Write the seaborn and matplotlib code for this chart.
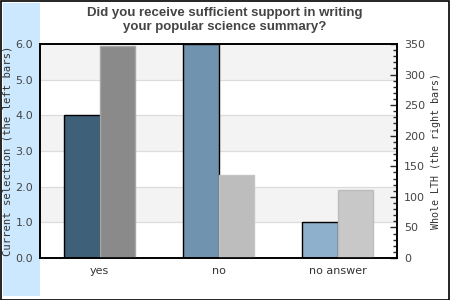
import numpy as np
import pandas as pd
import matplotlib
matplotlib.use("Agg")
import matplotlib.pyplot as plt
from matplotlib.patches import Rectangle
from matplotlib.ticker import MultipleLocator, FormatStrFormatter
import seaborn as sns

categories = ["yes", "no", "no answer"]
current_selection = [4.0, 6.0, 1.0]
whole_lth = [346, 136, 111]
left_colors = ["#3f6079", "#7094b0", "#8fb0cc"]
right_colors = ["#8a8a8a", "#bdbdbd", "#c8c8c8"]
right_edges = ["#a6a6a6", "#c4c4c4", "#bcbcbc"]

title = "Did you receive sufficient support in writing\nyour popular science summary?"
left_label = "Current selection (the left bars)"
right_label = "Whole LTH (the right bars)"

sns.set_style("white")
plt.rcParams["font.family"] = ["DejaVu Sans"]

fig = plt.figure(figsize=(4.5, 3.0), dpi=100)
fig.patch.set_facecolor("white")
# light blue strip on the left
fig.patches.append(Rectangle((3/450, 4/300), 37/450, 293/300, transform=fig.transFigure,
                             facecolor="#cce8ff", edgecolor="none", zorder=-2))
# outer border
fig.patches.append(Rectangle((0.5/450, 0.5/300), 448.5/450, 298.5/300, transform=fig.transFigure,
                             facecolor="none", edgecolor="black", linewidth=1.2, zorder=5))

ax = fig.add_axes([40/450, 42/300, 357/450, 214/300])
ax.set_facecolor("white")

df_left = pd.DataFrame({"category": categories, "value": current_selection, "series": "left"})
df_right = pd.DataFrame({"category": categories, "value": whole_lth, "series": "right"})

# bands and gridlines
for lo in [1, 3, 5]:
    ax.axhspan(lo, lo + 1, color="#f3f3f3", zorder=0, lw=0)
for y in range(1, 6):
    ax.axhline(y, color="#dcdcdc", lw=0.9, zorder=0.5)

sns.barplot(data=df_left, x="category", y="value", hue="series", hue_order=["left", "right"],
            order=categories, width=0.6, dodge=True, ax=ax, legend=False, errorbar=None,
            linewidth=1.0, edgecolor="black", zorder=2)
bars_left = [p for p in ax.patches if p.get_height() > 0 and p.get_width() < 1]
bars_left.sort(key=lambda p: p.get_x())
for p, c in zip(bars_left, left_colors):
    p.set_facecolor(c)
    p.set_edgecolor("black")

ax.set_xlim(-0.5, 2.5)
ax.set_ylim(0, 6)
ax.yaxis.set_major_locator(MultipleLocator(1))
ax.yaxis.set_major_formatter(FormatStrFormatter("%.1f"))
ax.tick_params(axis="y", length=0, labelsize=8, labelcolor="#444444", pad=5)
ax.tick_params(axis="x", length=0, labelsize=8, labelcolor="#333333", pad=6)
ax.set_xlabel("")
ax.set_ylabel(left_label, family="DejaVu Sans Mono", fontsize=7.6, color="#333333")
ax.yaxis.set_label_coords(-0.076, 0.5)
for s in ax.spines.values():
    s.set_visible(True)
    s.set_color("black")
    s.set_linewidth(1.2)

ax2 = ax.twinx()
sns.barplot(data=df_right, x="category", y="value", hue="series", hue_order=["left", "right"],
            order=categories, width=0.6, dodge=True, ax=ax2, legend=False, errorbar=None,
            linewidth=1.0, zorder=2)
bars_right = [p for p in ax2.patches if p.get_height() > 0 and p.get_width() < 1]
bars_right.sort(key=lambda p: p.get_x())
for p, c, e in zip(bars_right, right_colors, right_edges):
    p.set_facecolor(c)
    p.set_edgecolor(e)

ax2.set_xlim(-0.5, 2.5)
ax2.set_ylim(0, 350)
ax2.yaxis.set_major_locator(MultipleLocator(50))
ax2.yaxis.set_minor_locator(MultipleLocator(10))
ax2.tick_params(axis="y", which="major", direction="in", length=5, width=1, labelsize=8,
                labelcolor="#444444", pad=5, right=True)
ax2.tick_params(axis="y", which="minor", direction="in", length=3, width=1, right=True)
ax2.set_ylabel(right_label, family="DejaVu Sans Mono", fontsize=7.2, color="#333333")
ax2.yaxis.set_label_coords(1.095, 0.5)
ax2.set_xlabel("")
for s in ax2.spines.values():
    s.set_visible(True)
    s.set_color("black")
    s.set_linewidth(1.2)

fig.text(0.5, 1 - 20/300, title, ha="center", va="center", fontsize=9.5, fontweight="bold",
         color="#444444", family="Liberation Sans", linespacing=1.2)

fig.savefig("out.png", dpi=100)
